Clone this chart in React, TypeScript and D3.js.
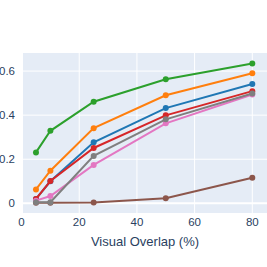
import * as React from 'react';
import * as d3 from 'd3';

const overlaps = [5, 10, 25, 50, 80];
const yTicks = [0, 0.2, 0.4, 0.6];
const xTicks = [0, 20, 40, 60, 80];

const seriesBlue = [0.02, 0.10, 0.277, 0.432, 0.541];
const seriesOrange = [0.063, 0.148, 0.341, 0.490, 0.590];
const seriesGreen = [0.231, 0.329, 0.461, 0.563, 0.634];
const seriesRed = [0.02, 0.101, 0.251, 0.399, 0.509];
const seriesBrown = [0.003, 0.003, 0.004, 0.023, 0.116];
const seriesPink = [0.012, 0.033, 0.174, 0.363, 0.494];
const seriesGray = [0.005, 0.005, 0.215, 0.381, 0.498];

const series = [
  { values: seriesBlue, color: '#1f77b4' },
  { values: seriesOrange, color: '#ff7f0e' },
  { values: seriesGreen, color: '#2ca02c' },
  { values: seriesRed, color: '#d62728' },
  { values: seriesBrown, color: '#8c564b' },
  { values: seriesPink, color: '#e377c2' },
  { values: seriesGray, color: '#7f7f7f' },
];

const W = 267;
const H = 267;
const plot = { left: 23, right: 267, top: 53, bottom: 213 };
const font = '"Liberation Sans", Arial, sans-serif';
const textColor = '#2a3f5f';

export default function App() {
  const x = d3.scaleLinear().domain([0.5, 85.1]).range([plot.left, plot.right]);
  const y = d3.scaleLinear().domain([-0.044, 0.682]).range([plot.bottom, plot.top]);
  const line = d3.line<number>()
    .x((_, i) => x(overlaps[i]))
    .y(d => y(d));

  return (
    <svg width={W} height={H} style={{ position: 'absolute', left: 0, top: 0, background: 'white' }}>
      <rect x={plot.left} y={plot.top} width={plot.right - plot.left} height={plot.bottom - plot.top} fill="#E5ECF6" />
      {xTicks.filter(t => x(t) >= plot.left).map(t => (
        <line key={'gx' + t} x1={x(t)} x2={x(t)} y1={plot.top} y2={plot.bottom} stroke="white" strokeWidth={1} />
      ))}
      {yTicks.map(t => (
        <line key={'gy' + t} x1={plot.left} x2={plot.right} y1={y(t)} y2={y(t)} stroke="white" strokeWidth={t === 0 ? 2 : 1} />
      ))}
      {series.map((s, i) => (
        <g key={i}>
          <path d={line(s.values) || ''} fill="none" stroke={s.color} strokeWidth={2} />
          {s.values.map((v, j) => (
            <circle key={j} cx={x(overlaps[j])} cy={y(v)} r={3} fill={s.color} />
          ))}
        </g>
      ))}
      {xTicks.map(t => (
        <text key={'tx' + t} x={x(t)} y={226} textAnchor="middle" fontSize={11.5} fontFamily={font} fill={textColor}>{t}</text>
      ))}
      {yTicks.map(t => (
        <text key={'ty' + t} x={15} y={y(t)} dy="0.35em" textAnchor="end" fontSize={11.5} fontFamily={font} fill={textColor}>{t === 0 ? '0' : t.toFixed(1)}</text>
      ))}
      <text x={145} y={246} textAnchor="middle" fontSize={13} fontFamily={font} fill={textColor}>Visual Overlap (%)</text>
    </svg>
  );
}
